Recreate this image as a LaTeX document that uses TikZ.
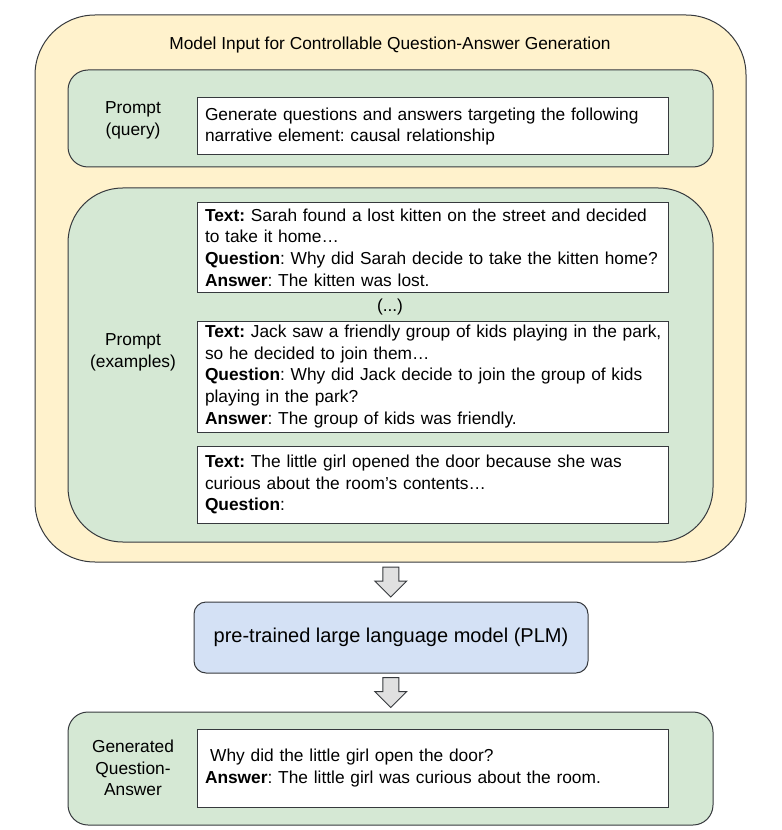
\documentclass[tikz,border=0pt]{standalone}
\usepackage{fontspec}
\setmainfont{Liberation Sans}
\usepackage{tikz}
\usetikzlibrary{calc,positioning}

\definecolor{inputyellow}{HTML}{FFF2CC}
\definecolor{promptgreen}{HTML}{D5E8D4}
\definecolor{plmblue}{HTML}{D4E1F5}
\definecolor{edgegray}{HTML}{36393D}
\definecolor{arrowgray}{HTML}{E0E0E0}
\frenchspacing

\begin{document}
\begin{tikzpicture}[x=0.75pt, y=-0.75pt, line cap=round,
  every node/.style={font=\fontsize{13pt}{16.3pt}\selectfont},
  panel/.style={draw=edgegray, line width=0.75pt, fill=#1, inner sep=0pt},
  textbox/.style={draw=edgegray, line width=0.75pt, fill=white,
    text width=341.25pt, inner xsep=6pt, inner ysep=0pt, align=left},
  sidelabel/.style={align=center, inner sep=0pt},
  blockarrow/.style={draw=edgegray, line width=0.75pt, fill=arrowgray,
    line join=miter}]
  \useasboundingbox (0,0) rectangle (781,830);

  % model input
  \node[panel=inputyellow, rounded corners=45pt, minimum width=533.25pt,
    minimum height=410.25pt] (input) at (390.5,288.5) {};
  \node[inner sep=0pt] (title) at (390,45)
    {Model Input for Controllable Question-Answer Generation};

  % prompt (query)
  \node[panel=promptgreen, rounded corners=15pt, minimum width=483.75pt,
    minimum height=72.75pt] (query) at (390.5,118.5) {};
  \node[sidelabel] (querylabel) at (133,120) {Prompt\\(query)};
  \node[textbox, minimum height=42.75pt] (querytext) at (432.5,126.5)
    {Generate questions and answers targeting the following\\
     narrative element: causal relationship};

  % prompt (examples)
  \node[panel=promptgreen, rounded corners=41pt, minimum width=483.75pt,
    minimum height=265.5pt] (examples) at (390.5,365) {};
  \node[sidelabel] (exampleslabel) at (133,352) {Prompt\\(examples)};
  \node[textbox, minimum height=66.75pt] (sarah) at (432.5,247.5)
    {\textbf{Text:} Sarah found a lost kitten on the street and decided\\
     to take it home…\\
     \textbf{Question}: Why did Sarah decide to take the kitten home?\\
     \textbf{Answer}: The kitten was lost.};
  \node[inner sep=0pt] (dots) at (390,307) {(...)};
  \node[textbox, minimum height=83.25pt] (jack) at (432.5,376.5)
    {\mbox{\textbf{Text:} Jack saw a friendly group of kids playing in the park,}\\
     so he decided to join them…\\
     \textbf{Question}: Why did Jack decide to join the group of kids\\
     playing in the park?\\
     \textbf{Answer}: The group of kids was friendly.};
  \node[textbox, minimum height=57.75pt] (girl) at (432.5,484.5)
    {\textbf{Text:} The little girl opened the door because she was\\
     curious about the room’s contents…\\
     \textbf{Question}:};

  % language model
  \node[panel=plmblue, rounded corners=9pt, minimum width=295.5pt,
    minimum height=53.25pt, font=\fontsize{15pt}{18pt}\selectfont]
    (plm) at (391,637.5) {pre-trained large language model (PLM)};

  % generated output
  \node[panel=promptgreen, rounded corners=15pt, minimum width=483.75pt,
    minimum height=84.75pt] (output) at (390.5,768.5) {};
  \node[sidelabel] (outputlabel) at (133,768) {Generated\\Question-\\Answer};
  \node[textbox, minimum height=58.5pt] (outputtext) at (432.5,768)
    {\hspace*{0.3em}Why did the little girl open the door?\\
     \textbf{Answer}: The little girl was curious about the room.};

  % block arrows
  \coordinate (arrowin) at ($(input.south)!0.5!(plm.north)$);
  \coordinate (arrowout) at ($(plm.south)!0.5!(output.north)$);
  \foreach \a in {arrowin,arrowout}
    \draw[blockarrow] ($(\a)+(-8,-15)$) -- ++(16,0) -- ++(0,14) -- ++(8,0)
      -- ++(-16,16) -- ++(-16,-16) -- ++(8,0) -- cycle;
\end{tikzpicture}
\end{document}
